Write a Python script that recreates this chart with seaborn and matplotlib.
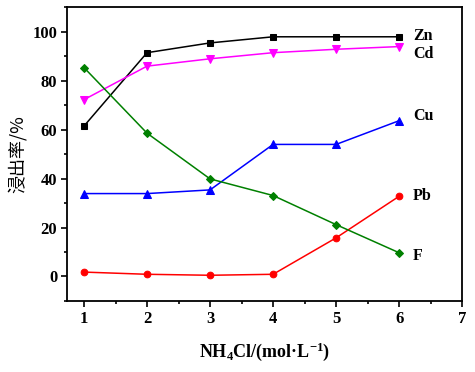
import seaborn as sns
import matplotlib.pyplot as plt
import pandas as pd
from matplotlib.ticker import MultipleLocator

# NH4Cl concentration (mol/L)
conc = [1, 2, 3, 4, 5, 6]
# leaching rate (%)
zn = [61.5, 91.5, 95.5, 98.0, 98.0, 98.0]
cd = [72.3, 86.0, 89.0, 91.5, 92.9, 94.0]
cu = [33.9, 33.9, 35.4, 54.0, 54.0, 63.7]
pb = [1.8, 0.9, 0.5, 0.9, 15.8, 32.8]
f = [85.4, 58.6, 39.9, 33.1, 21.2, 9.7]

names = ["Zn", "Cd", "Cu", "Pb", "F"]
series = [zn, cd, cu, pb, f]
colors = ["black", "#ff00ff", "#0000ff", "#ff0000", "#008000"]
markers = ["s", "v", "^", "o", "D"]
sizes = [4.3, 5.5, 5.5, 4.8, 4.3]
label_y = [98.5, 91.0, 65.5, 33.0, 8.5]

rows = []
for n, vals in zip(names, series):
    for x, v in zip(conc, vals):
        rows.append({"conc": x, "rate": v, "metal": n})
df = pd.DataFrame(rows)

sns.set_style("ticks")
plt.rcParams["font.family"] = ["Liberation Serif", "DejaVu Sans"]
plt.rcParams["font.weight"] = "bold"
plt.rcParams["text.color"] = "black"
plt.rcParams["xtick.color"] = "black"
plt.rcParams["ytick.color"] = "black"
plt.rcParams["axes.labelcolor"] = "black"
plt.rcParams["mathtext.fontset"] = "custom"
plt.rcParams["mathtext.rm"] = "Liberation Serif:bold"
plt.rcParams["mathtext.default"] = "rm"

fig = plt.figure(figsize=(4.75, 3.72), dpi=100)
ax = fig.add_axes([0.141, 0.191, 0.832, 0.789])

for n, c, m, s, ly in zip(names, colors, markers, sizes, label_y):
    sub = df[df["metal"] == n]
    sns.lineplot(data=sub, x="conc", y="rate", ax=ax, color=c, marker=m,
                 markersize=s, markeredgecolor=c, linewidth=1.1)
    ax.text(6.22, ly, n, color="black", fontsize=11.5, fontweight="bold",
            va="center", ha="left")

ax.set_xlim(0.73, 7)
ax.set_ylim(-10, 110)
ax.xaxis.set_major_locator(MultipleLocator(1))
ax.xaxis.set_minor_locator(MultipleLocator(0.5))
ax.yaxis.set_major_locator(MultipleLocator(20))
ax.yaxis.set_minor_locator(MultipleLocator(10))
ax.tick_params(which="major", direction="out", length=4, width=1.2,
               labelsize=12, top=False, right=False, pad=3)
ax.tick_params(which="minor", direction="out", length=2.5, width=1.2,
               top=False, right=False)
for lab in ax.get_xticklabels() + ax.get_yticklabels():
    lab.set_fontweight("bold")
for sp in ax.spines.values():
    sp.set_visible(True)
    sp.set_linewidth(1.3)
    sp.set_color("black")

ax.set_xlabel("NH$_4$Cl/(mol·L$^{-1}$)", fontsize=13, fontweight="bold",
              labelpad=10)
ax.set_ylabel("浸出率/%", fontsize=13, fontweight="normal",
              family=["Noto Sans CJK SC", "DejaVu Sans"], labelpad=4)

plt.savefig("out.png", dpi=100)
